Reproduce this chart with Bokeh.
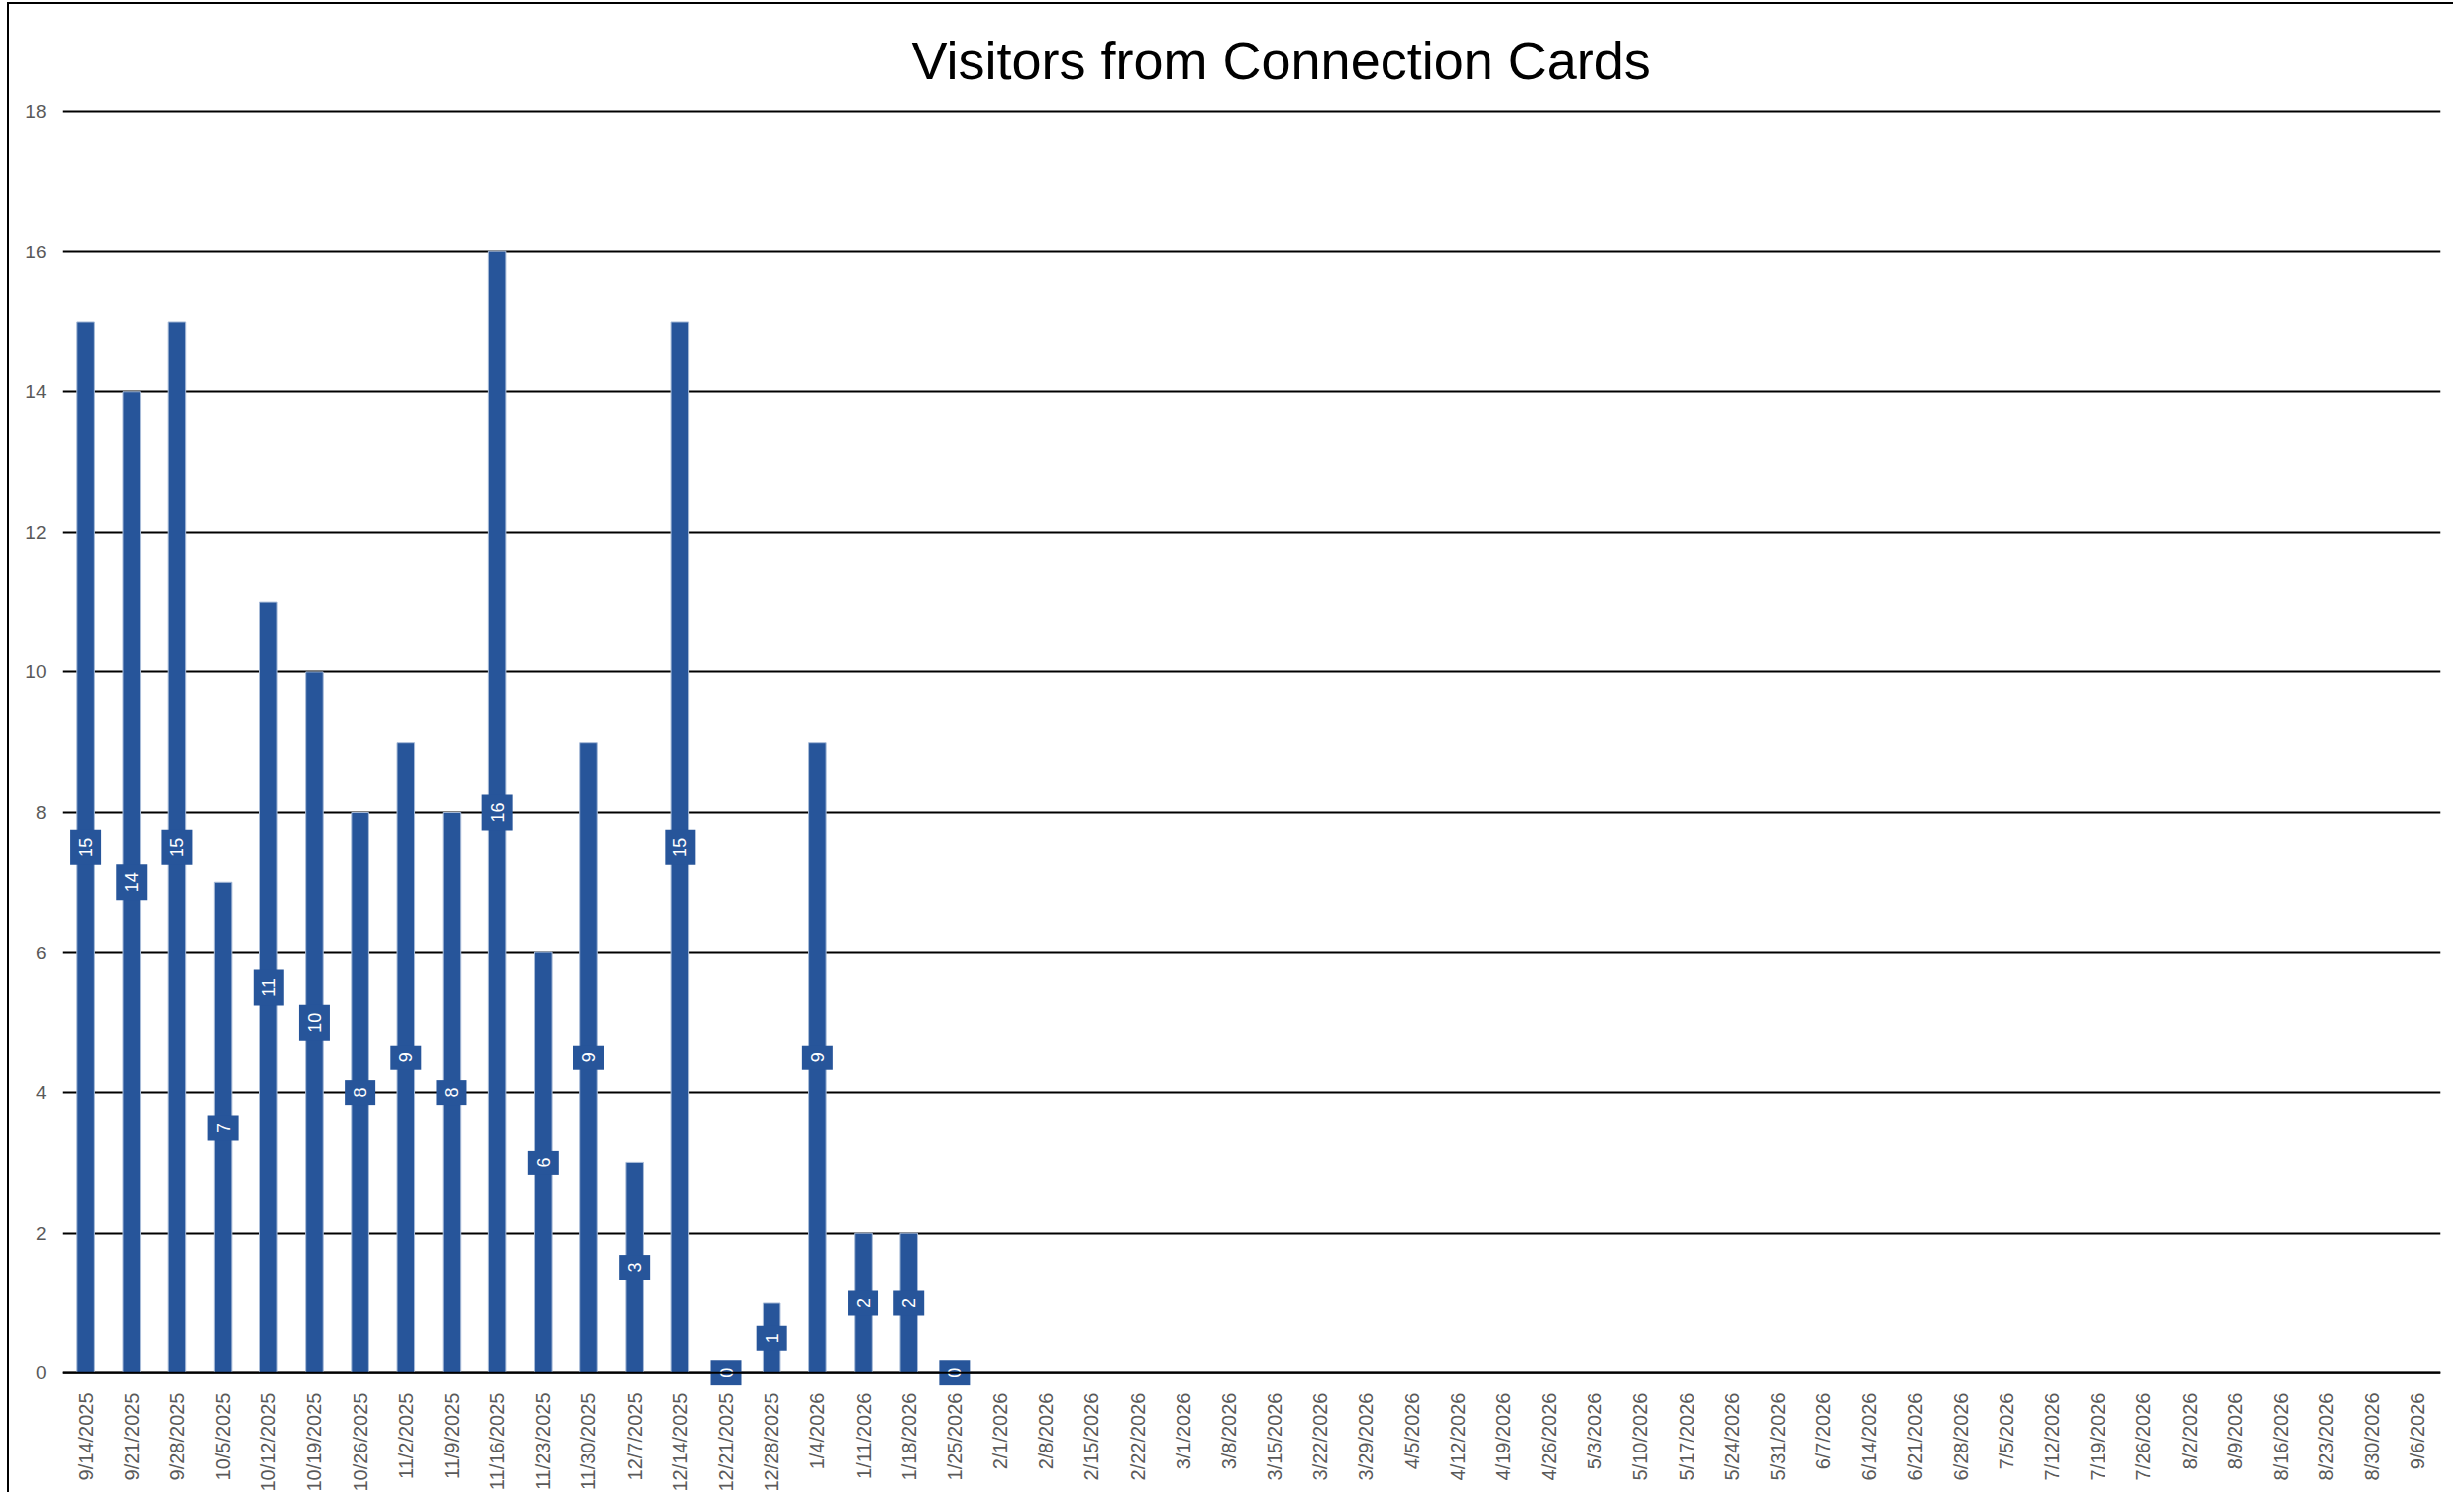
import math
from bokeh.plotting import figure
from bokeh.models import FactorRange, Range1d, FixedTicker, Span, ColumnDataSource
from bokeh.core.properties import value
from bokeh.embed import file_html
from bokeh.resources import INLINE

title_text = "Visitors from Connection Cards"

weeks = [
    "9/14/2025", "9/21/2025", "9/28/2025", "10/5/2025", "10/12/2025", "10/19/2025",
    "10/26/2025", "11/2/2025", "11/9/2025", "11/16/2025", "11/23/2025", "11/30/2025",
    "12/7/2025", "12/14/2025", "12/21/2025", "12/28/2025", "1/4/2026", "1/11/2026",
    "1/18/2026", "1/25/2026", "2/1/2026", "2/8/2026", "2/15/2026", "2/22/2026",
    "3/1/2026", "3/8/2026", "3/15/2026", "3/22/2026", "3/29/2026", "4/5/2026",
    "4/12/2026", "4/19/2026", "4/26/2026", "5/3/2026", "5/10/2026", "5/17/2026",
    "5/24/2026", "5/31/2026", "6/7/2026", "6/14/2026", "6/21/2026", "6/28/2026",
    "7/5/2026", "7/12/2026", "7/19/2026", "7/26/2026", "8/2/2026", "8/9/2026",
    "8/16/2026", "8/23/2026", "8/30/2026", "9/6/2026",
]

visitors = [15, 14, 15, 7, 11, 10, 8, 9, 8, 16, 6, 9, 3, 15, 0, 1, 9, 2, 2, 0]

y_ticks = [0, 2, 4, 6, 8, 10, 12, 14, 16, 18]

BAR = "#27559A"
FONT = "Liberation Sans"

data_weeks = weeks[:len(visitors)]
src = ColumnDataSource(dict(
    x=data_weeks,
    top=visitors,
    mid=[v / 2 for v in visitors],
    label=[str(v) for v in visitors],
    boxh=[25 if len(str(v)) == 1 else 36 for v in visitors],
))

p = figure(
    x_range=FactorRange(*weeks),
    y_range=Range1d(-0.18, 18.03),
    width=2470, height=1505,
    output_backend="svg", toolbar_location=None,
    min_border_left=54, min_border_right=15, min_border_top=106, min_border_bottom=100,
)
p.outline_line_color = None
p.background_fill_color = "white"
p.border_fill_color = "white"

p.title.text = title_text
p.title.align = "left"
p.title.offset = 857
p.title.text_font = FONT
p.title.text_font_size = "54px"
p.title.text_font_style = "normal"
p.title.text_color = "black"
p.title.standoff = 40

p.vbar(x="x", top="top", width=0.38, source=src, fill_color=BAR,
       line_color="#A9BCD8", line_width=1)

p.rect(x="x", y="mid", width=31, height="boxh", width_units="screen",
       height_units="screen", source=src, fill_color=BAR, line_color=None)
p.text(x="x", y="mid", text="label", angle=math.pi / 2, source=src,
       text_color="white", text_font=value(FONT), text_font_size="18px",
       text_align="center", text_baseline="middle")

p.add_layout(Span(location=0, dimension="width", line_color="black", line_width=2))

p.yaxis.ticker = FixedTicker(ticks=y_ticks)
p.yaxis.axis_line_color = None
p.yaxis.major_tick_line_color = None
p.yaxis.minor_tick_line_color = None
p.yaxis.major_label_standoff = 11
p.yaxis.major_label_text_font = FONT
p.yaxis.major_label_text_font_size = "19px"
p.yaxis.major_label_text_color = "#595959"

p.xaxis.axis_line_color = None
p.xaxis.major_tick_line_color = None
p.xaxis.minor_tick_line_color = None
p.xaxis.major_label_orientation = math.pi / 2
p.xaxis.major_label_standoff = 1
p.xaxis.major_label_text_font = FONT
p.xaxis.major_label_text_font_size = "20px"
p.xaxis.major_label_text_color = "#595959"

p.xgrid.grid_line_color = None
p.ygrid.grid_line_color = "black"
p.ygrid.grid_line_width = 1.8

p.styles = {"border-left": "2px solid black", "border-top": "2px solid black",
            "margin-left": "7px", "margin-top": "2px"}

open("out.html", "w").write(file_html(p, INLINE))
